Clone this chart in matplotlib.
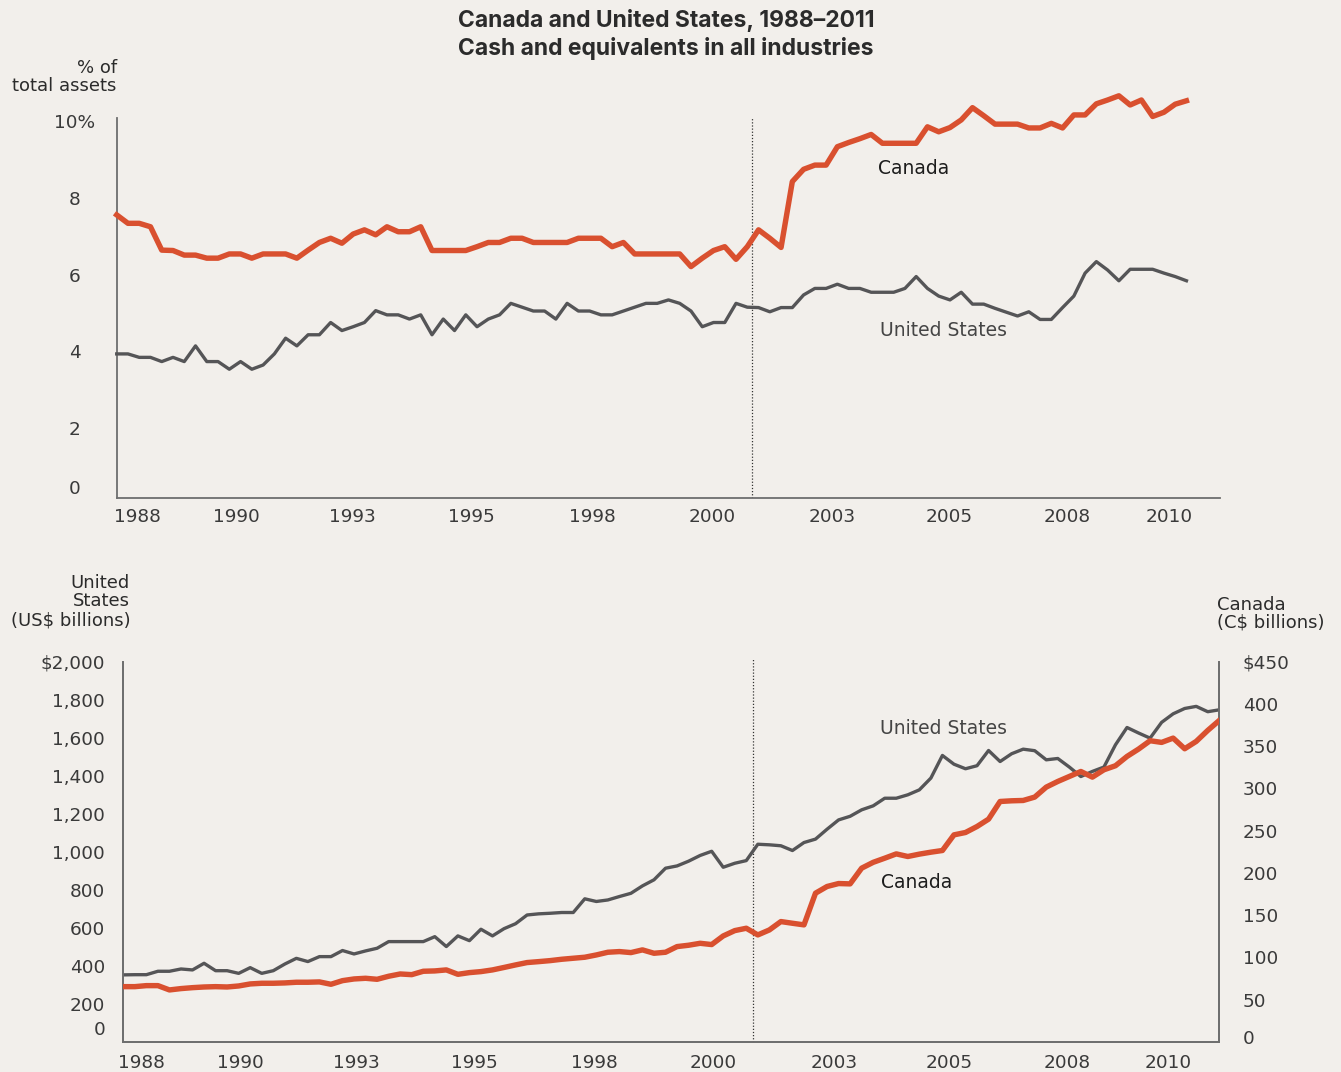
import matplotlib
matplotlib.use("Agg")
import matplotlib.pyplot as plt

# ---- data (quarterly, 1988-2011) ----
year_labels = ["1988", "1990", "1993", "1995", "1998", "2000", "2003", "2005", "2008", "2010"]

# cash as % of total assets
canada_share = [7.56, 7.34, 7.34, 7.25, 6.64, 6.63, 6.51, 6.51, 6.43, 6.43,
                6.54, 6.54, 6.43, 6.54, 6.54, 6.54, 6.43, 6.64, 6.84, 6.95,
                6.82, 7.06, 7.17, 7.04, 7.25, 7.12, 7.12, 7.25, 6.63, 6.63,
                6.63, 6.63, 6.73, 6.84, 6.84, 6.95, 6.95, 6.84, 6.84, 6.84,
                6.84, 6.95, 6.95, 6.95, 6.73, 6.84, 6.54, 6.54, 6.54, 6.54,
                6.54, 6.21, 6.43, 6.63, 6.73, 6.40, 6.73, 7.17, 6.95, 6.71,
                8.43, 8.75, 8.86, 8.86, 9.34, 9.45, 9.55, 9.66, 9.43, 9.43,
                9.43, 9.43, 9.86, 9.73, 9.84, 10.04, 10.36, 10.15, 9.93, 9.93,
                9.93, 9.83, 9.83, 9.95, 9.83, 10.17, 10.17, 10.46, 10.56, 10.67,
                10.43, 10.56, 10.13, 10.24, 10.45, 10.54]

us_share = [3.93, 3.93, 3.84, 3.84, 3.73, 3.84, 3.73, 4.14, 3.73, 3.73,
            3.53, 3.73, 3.53, 3.64, 3.93, 4.34, 4.14, 4.43, 4.43, 4.75,
            4.54, 4.64, 4.75, 5.06, 4.95, 4.95, 4.84, 4.95, 4.43, 4.84,
            4.54, 4.95, 4.64, 4.84, 4.95, 5.25, 5.15, 5.05, 5.05, 4.84,
            5.25, 5.05, 5.05, 4.95, 4.95, 5.05, 5.15, 5.25, 5.25, 5.34,
            5.25, 5.05, 4.64, 4.75, 4.75, 5.25, 5.15, 5.14, 5.03, 5.14,
            5.14, 5.47, 5.64, 5.64, 5.75, 5.64, 5.64, 5.54, 5.54, 5.54,
            5.64, 5.95, 5.64, 5.44, 5.34, 5.54, 5.23, 5.23, 5.12, 5.02,
            4.92, 5.03, 4.83, 4.83, 5.14, 5.44, 6.04, 6.34, 6.12, 5.84,
            6.14, 6.14, 6.14, 6.04, 5.95, 5.84]

# cash held, US$ billions
us_cash = [353, 354, 354, 372, 372, 384, 379, 414, 375, 375,
           361, 391, 361, 375, 410, 440, 423, 449, 449, 481,
           463, 479, 493, 528, 528, 528, 528, 554, 502, 558,
           533, 593, 558, 596, 622, 668, 674, 677, 681, 681,
           753, 739, 747, 765, 782, 821, 853, 914, 926, 951,
           981, 1003, 919, 940, 954, 1040, 1037, 1032, 1007, 1049,
           1067, 1119, 1168, 1187, 1221, 1242, 1282, 1282, 1300, 1326,
           1388, 1507, 1461, 1437, 1453, 1533, 1475, 1516, 1540, 1532,
           1484, 1491, 1446, 1396, 1423, 1446, 1563, 1654, 1625, 1598,
           1681, 1726, 1754, 1765, 1737, 1747]

# cash held, C$ billions
canada_cash = [65.5, 65.5, 66.7, 66.7, 61.6, 63.2, 64.3, 65.1, 65.5, 65.1,
               66.3, 68.7, 69.5, 69.5, 69.9, 70.7, 70.7, 71.1, 68.3, 72.6,
               74.6, 75.4, 74.2, 77.8, 80.5, 79.7, 83.7, 84.1, 85.3, 80.1,
               82.1, 83.3, 85.3, 88.2, 91.2, 94.0, 95.1, 96.3, 97.9, 99.1,
               100.3, 103.0, 106.2, 107.0, 105.8, 109.0, 105.0, 106.2, 112.9, 114.5,
               116.8, 115.3, 125.5, 131.8, 134.6, 126.7, 132.6, 142.5, 140.5, 138.6,
               176.1, 184.0, 187.5, 187.1, 205.7, 212.6, 217.5, 222.6, 219.5, 222.3,
               224.6, 226.6, 245.1, 247.9, 255.0, 263.7, 284.6, 285.4, 285.8, 289.8,
               301.6, 308.3, 314.2, 320.1, 313.4, 322.1, 326.9, 337.9, 346.6, 356.5,
               354.5, 359.6, 347.0, 355.7, 368.7, 380.5]

share_ticks = [0.46, 2, 4, 6, 8, 10]
share_tick_labels = ["0", "2", "4", "6", "8", "10%"]
us_ticks = [72, 200, 400, 600, 800, 1000, 1200, 1400, 1600, 1800, 2000]
us_tick_labels = ["0", "200", "400", "600", "800", "1,000", "1,200", "1,400", "1,600", "1,800", "$2,000"]
ca_ticks = [6, 50, 100, 150, 200, 250, 300, 350, 400, 450]
ca_tick_labels = ["0", "50", "100", "150", "200", "250", "300", "350", "400", "$450"]

# ---- layout / style ----
W, H = 1341, 1072
BG = "#f2efeb"
RED = "#d9502f"
GREY = "#555557"
TEXT = "#2b2b2b"
TICK_TEXT = "#3a3a3a"
SPINE = "#6e6e6e"
TITLE_FONT = ["Inter", "DejaVu Sans"]

top_year_pos = [1.81, 10.6, 20.9, 31.5, 42.2, 52.9, 63.5, 73.9, 84.4, 93.5]
bottom_year_pos = [1.58, 10.15, 20.17, 30.44, 40.84, 51.11, 61.64, 71.61, 81.8, 90.6]
top_marker = 56.4
bottom_marker = 54.6

plt.rcParams["font.family"] = ["DejaVu Sans"]


def px(x, y):
    return x / W, 1 - y / H


def style_axis(ax, spines):
    ax.set_facecolor("none")
    for side in ["left", "right", "top", "bottom"]:
        ax.spines[side].set_visible(side in spines)
        ax.spines[side].set_color(SPINE)
        ax.spines[side].set_linewidth(1.3)
    ax.tick_params(length=0, labelsize=13.3, colors=TICK_TEXT)


fig = plt.figure(figsize=(W / 100, H / 100), dpi=100)
fig.patch.set_facecolor(BG)

fig.text(*px(666, 21), "Canada and United States, 1988\u20132011", ha="center", va="center",
         fontsize=16.5, fontweight="bold", color=TEXT, family=TITLE_FONT)
fig.text(*px(666, 49), "Cash and equivalents in all industries", ha="center", va="center",
         fontsize=16.5, fontweight="bold", color=TEXT, family=TITLE_FONT)

# ---- top panel: share of total assets ----
ax1 = fig.add_axes([116.7 / W, 1 - 498.3 / H, (1220 - 116.7) / W, (498.3 - 118) / H])
style_axis(ax1, ["left", "bottom"])
quarters = list(range(len(canada_share)))
ax1.plot(quarters, us_share, color=GREY, lw=2.4, clip_on=False, zorder=3)
ax1.plot(quarters, canada_share, color=RED, lw=3.9, clip_on=False, zorder=4)
ax1.axvline(top_marker, color="#333333", lw=0.9, ls=(0, (1, 1.5)))
ax1.set_xlim(0, 97.98)
ax1.set_ylim(0.16, 10.09)
ax1.set_xticks(top_year_pos)
ax1.set_xticklabels(year_labels)
ax1.set_yticks(share_ticks)
ax1.set_yticklabels(share_tick_labels, ha="center")
ax1.tick_params(axis="y", pad=30)
ax1.tick_params(axis="x", pad=7)

fig.text(*px(116.7, 68), "% of", ha="right", va="center", fontsize=13, color=TEXT)
fig.text(*px(116.7, 86), "total assets", ha="right", va="center", fontsize=13, color=TEXT)
fig.text(*px(878, 169), "Canada", ha="left", va="center", fontsize=13.5, color="#1c1c1c")
fig.text(*px(880.5, 331), "United States", ha="left", va="center", fontsize=13.5, color="#454545")

# ---- bottom panel: cash held, two currencies ----
rect2 = [123.3 / W, 1 - 1042 / H, (1219.3 - 123.3) / W, (1042 - 661.7) / H]
ax2 = fig.add_axes(rect2)
style_axis(ax2, ["left", "bottom", "right"])
ax3 = ax2.twinx()
style_axis(ax3, ["left", "bottom", "right"])

quarters2 = list(range(len(us_cash)))
ax2.plot(quarters2, us_cash, color=GREY, lw=2.4, zorder=3)
ax3.plot(quarters2, canada_cash, color=RED, lw=3.9, zorder=4)
ax2.axvline(bottom_marker, ymax=1.01, color="#333333", lw=0.9, ls=(0, (1, 1.5)), clip_on=False)

ax2.set_xlim(0, 95)
ax2.set_ylim(0, 2000)
ax3.set_ylim(0, 450)
ax2.set_xticks(bottom_year_pos)
ax2.set_xticklabels(year_labels)
ax2.set_yticks(us_ticks)
ax2.set_yticklabels(us_tick_labels)
ax3.set_yticks(ca_ticks)
ax3.set_yticklabels(ca_tick_labels, ha="left")
ax2.tick_params(axis="y", pad=13)
ax2.tick_params(axis="x", pad=9)
ax3.tick_params(axis="y", pad=17)

fig.text(*px(130, 583), "United", ha="right", va="center", fontsize=13, color=TEXT)
fig.text(*px(130, 601.5), "States", ha="right", va="center", fontsize=13, color=TEXT)
fig.text(*px(131, 620), "(US$ billions)", ha="right", va="center", fontsize=13, color=TEXT)
fig.text(*px(1217, 605), "Canada", ha="left", va="center", fontsize=13, color=TEXT)
fig.text(*px(1217, 623), "(C$ billions)", ha="left", va="center", fontsize=13, color=TEXT)
fig.text(*px(880.5, 729), "United States", ha="left", va="center", fontsize=13.5, color="#454545")
fig.text(*px(880.5, 883), "Canada", ha="left", va="center", fontsize=13.5, color="#1c1c1c")

fig.savefig("out.png", dpi=100, facecolor=BG)
